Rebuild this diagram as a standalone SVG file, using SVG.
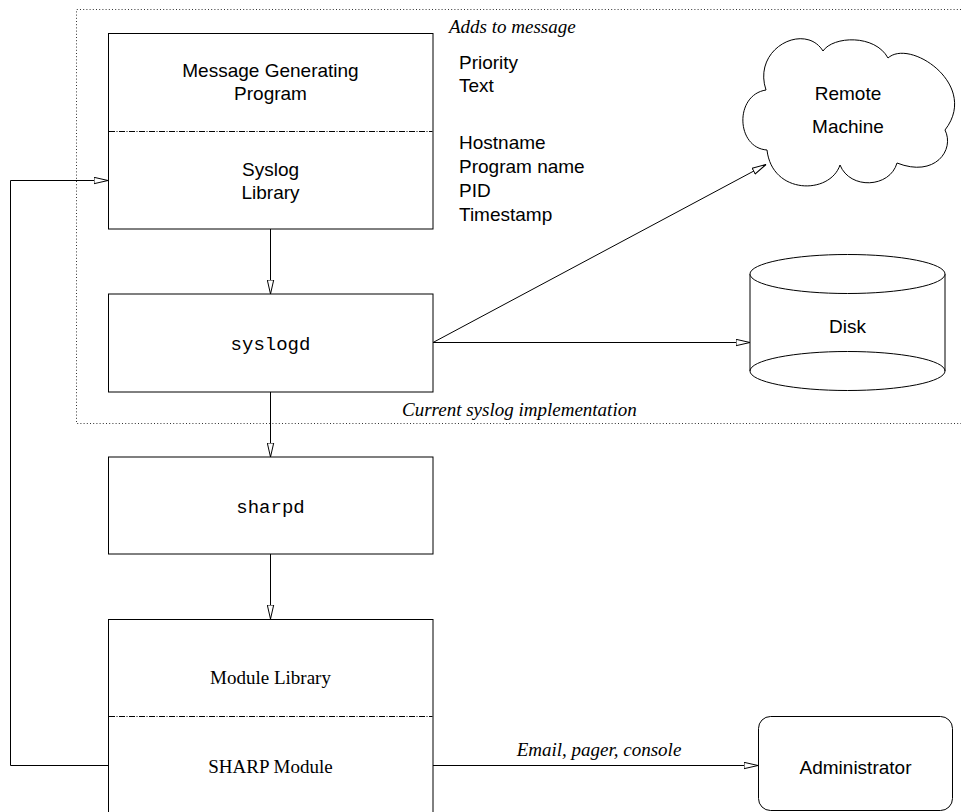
<svg xmlns="http://www.w3.org/2000/svg" width="961" height="812" viewBox="0 0 961 812">
<style>
  .box { fill: #fff; stroke: #000; stroke-width: 1; }
  .div { fill: none; stroke: #000; stroke-width: 1; stroke-dasharray: 6 1.5 1 1.5; }
  .edge { fill: none; stroke: #000; stroke-width: 1; }
  .dotted { fill: none; stroke: #333; stroke-width: 1; stroke-dasharray: 1 2.2; }
  .sans { font-family: "Liberation Sans", Arial, Helvetica, sans-serif; font-size: 19px; fill: #000; }
  .serif { font-family: "Liberation Serif", "Times New Roman", serif; font-size: 19px; fill: #000; }
  .ital { font-family: "Liberation Serif", "Times New Roman", serif; font-size: 19px; font-style: italic; fill: #000; }
  .mono { font-family: "Liberation Mono", "Courier New", monospace; font-size: 19px; fill: #000; }
  .mid { text-anchor: middle; }
</style>
<defs>
  <marker id="arrow" viewBox="0 0 15 8" refX="14.5" refY="4" markerWidth="15" markerHeight="8" markerUnits="userSpaceOnUse" orient="auto">
    <path d="M0.5,0.8 L14.5,4 L0.5,7.2 Z" fill="#fff" stroke="#000" stroke-width="1"/>
  </marker>
</defs>
<rect width="961" height="812" fill="#fff"/>

<g id="boundary">
  <path class="dotted" d="M961,9.5 H76.5 V423.5 H961"/>
  <text class="ital" x="449" y="33">Adds to message</text>
  <text class="ital" x="402" y="416">Current syslog implementation</text>
</g>

<g id="fields">
  <text class="sans" x="459" y="69">Priority</text>
  <text class="sans" x="459" y="92">Text</text>
  <text class="sans" x="459" y="149">Hostname</text>
  <text class="sans" x="459" y="173">Program name</text>
  <text class="sans" x="459" y="197">PID</text>
  <text class="sans" x="459" y="221">Timestamp</text>
</g>

<g id="connectors">
  <path class="edge" d="M270.5,229 V294" marker-end="url(#arrow)"/>
  <path class="edge" d="M270.5,392 V457" marker-end="url(#arrow)"/>
  <path class="edge" d="M270.5,554 V619" marker-end="url(#arrow)"/>
  <path class="edge" d="M433,342.5 L766,164.5" marker-end="url(#arrow)"/>
  <path class="edge" d="M433,342.5 H750" marker-end="url(#arrow)"/>
  <path class="edge" d="M108,765.5 H10.5 V180.5 H108" marker-end="url(#arrow)"/>
  <path class="edge" d="M433,765.5 H758" marker-end="url(#arrow)"/>
  <text class="ital mid" x="599" y="756">Email, pager, console</text>
</g>

<g id="program">
  <rect class="box" x="108.5" y="33.5" width="324.5" height="195.5"/>
  <line class="div" x1="109" y1="131.5" x2="432.5" y2="131.5"/>
  <text class="sans mid" x="270.5" y="77">Message Generating</text>
  <text class="sans mid" x="270.5" y="100">Program</text>
  <text class="sans mid" x="270.5" y="176">Syslog</text>
  <text class="sans mid" x="270.5" y="199">Library</text>
</g>

<g id="syslogd">
  <rect class="box" x="108.5" y="294" width="324.5" height="98"/>
  <text class="mono mid" x="270.5" y="350">syslogd</text>
</g>

<g id="sharpd">
  <rect class="box" x="108.5" y="457" width="324.5" height="97"/>
  <text class="mono mid" x="270.5" y="513">sharpd</text>
</g>

<g id="module">
  <rect class="box" x="108.5" y="619.5" width="324.5" height="200"/>
  <line class="div" x1="109" y1="716.5" x2="432.5" y2="716.5"/>
  <text class="serif mid" x="270.5" y="684">Module Library</text>
  <text class="serif mid" x="270.5" y="773">SHARP Module</text>
</g>

<g id="remote">
  <path class="box" d="M766,90 C752,48 805,22 823,51 C833,36 875,34 888,58 C910,38 980,85 945,130 C955,150 935,178 897,163 C890,188 850,190 840,165 C830,195 772,195 767,150 C736,148 734,95 766,90 Z"/>
  <text class="sans mid" x="848" y="100">Remote</text>
  <text class="sans mid" x="848" y="133">Machine</text>
</g>

<g id="disk">
  <path class="box" d="M750,274 V371 A97.5,19.5 0 0 0 945,371 V274"/>
  <ellipse class="box" cx="847.5" cy="274" rx="97.5" ry="19.5"/>
  <path class="edge" d="M750,371 A97.5,19.5 0 0 1 945,371"/>
  <text class="sans mid" x="847.5" y="333">Disk</text>
</g>

<g id="administrator">
  <rect class="box" x="758.5" y="716.5" width="194" height="94" rx="12" ry="12"/>
  <text class="sans mid" x="855.5" y="774">Administrator</text>
</g>
</svg>
